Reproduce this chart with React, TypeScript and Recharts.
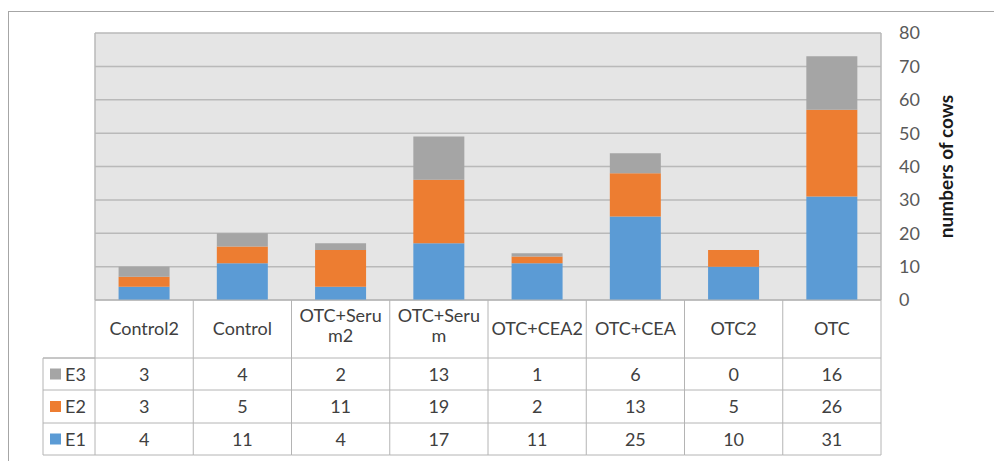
import { BarChart, Bar, XAxis, YAxis, CartesianGrid } from 'recharts';

const categories = ['Control2', 'Control', 'OTC+Serum2', 'OTC+Serum', 'OTC+CEA2', 'OTC+CEA', 'OTC2', 'OTC'];
const e1 = [4, 11, 4, 17, 11, 25, 10, 31];
const e2 = [3, 5, 11, 19, 2, 13, 5, 26];
const e3 = [3, 4, 2, 13, 1, 6, 0, 16];
const yTicks = [0, 10, 20, 30, 40, 50, 60, 70, 80];

const series = [
  { key: 'E3', values: e3, color: '#a5a5a5' },
  { key: 'E2', values: e2, color: '#ed7d31' },
  { key: 'E1', values: e1, color: '#5b9bd5' },
];

const data = categories.map((name, i) => ({ name, E1: e1[i], E2: e2[i], E3: e3[i] }));

const W = 994;
const H = 461;
const M = { top: 33, right: 38, bottom: 5, left: 95 };
const Y_W = 75;
const X_H = 156;
const PLOT_W = W - M.left - M.right - Y_W;
const COL_W = PLOT_W / categories.length;

// header row, then one row per series
const HEAD_H = 58;
const ROW_TOPS = [58, 90, 123];
const ROW_H = [32, 33, 32];

const LINE = '#b4b4b4';
const TXT = '#404040';
const FONT = 'Lato, "Open Sans", sans-serif';

const TableTick = (props: any) => {
  const { x, y, payload, index } = props;
  const left = x - COL_W / 2;
  const name = String(payload.value);
  const lines = name.length > 8 ? [name.slice(0, 8), name.slice(8)] : [name];
  const bottom = y + ROW_TOPS[2] + ROW_H[2];
  return (
    <g fontFamily={FONT} fontSize={18} fill={TXT}>
      <line x1={left} y1={y} x2={left + COL_W} y2={y} stroke={LINE} />
      <line x1={left} y1={y} x2={left} y2={bottom} stroke={LINE} />
      {index === categories.length - 1 && (
        <line x1={left + COL_W} y1={y} x2={left + COL_W} y2={bottom} stroke={LINE} />
      )}
      {lines.length === 1 ? (
        <text x={x} y={y + 35} textAnchor="middle">{lines[0]}</text>
      ) : (
        <text x={x} y={y + 22} textAnchor="middle">
          <tspan x={x}>{lines[0]}</tspan>
          <tspan x={x} dy={20}>{lines[1]}</tspan>
        </text>
      )}
      {series.map((s, r) => (
        <g key={s.key}>
          <line x1={left} y1={y + ROW_TOPS[r]} x2={left + COL_W} y2={y + ROW_TOPS[r]} stroke={LINE} />
          <text x={x} y={y + ROW_TOPS[r] + ROW_H[r] / 2 + 6.5} textAnchor="middle">{s.values[index]}</text>
        </g>
      ))}
      <line x1={left} y1={bottom} x2={left + COL_W} y2={bottom} stroke={LINE} />
      {index === 0 && (
        <g>
          <line x1={left - 52} y1={y + HEAD_H} x2={left} y2={y + HEAD_H} stroke={LINE} />
          <line x1={left - 52} y1={y + HEAD_H} x2={left - 52} y2={bottom} stroke={LINE} />
          <line x1={left - 52} y1={bottom} x2={left} y2={bottom} stroke={LINE} />
          {series.map((s, r) => (
            <g key={s.key}>
              <line x1={left - 52} y1={y + ROW_TOPS[r]} x2={left} y2={y + ROW_TOPS[r]} stroke={LINE} />
              <rect x={left - 45} y={y + ROW_TOPS[r] + ROW_H[r] / 2 - 5.5} width={11} height={11} fill={s.color} />
              <text x={left - 30} y={y + ROW_TOPS[r] + ROW_H[r] / 2 + 6.5}>{s.key}</text>
            </g>
          ))}
        </g>
      )}
    </g>
  );
};

const AxisTitle = ({ viewBox }: any) => {
  const cx = viewBox.x + 64;
  const cy = viewBox.y + viewBox.height / 2;
  return (
    <text
      x={cx}
      y={cy}
      transform={`rotate(-90 ${cx} ${cy})`}
      textAnchor="middle"
      dominantBaseline="central"
      fontFamily={FONT}
      fontWeight="bold"
      fontSize={19}
      fill="#1a1a1a"
    >
      numbers of cows
    </text>
  );
};

export default function App() {
  return (
    <div style={{ position: 'absolute', left: 0, top: 0, width: W, height: H, background: '#fff' }}>
      <div style={{ position: 'absolute', left: 8, top: 11, right: 0, bottom: 0, borderTop: '1.5px solid #a6a6a6', borderLeft: '1.5px solid #a6a6a6' }} />
      <BarChart width={W} height={H} data={data} margin={M} barCategoryGap="24%">
        <CartesianGrid
          fill="#e5e5e5"
          stroke="#b9b9b9"
          strokeWidth={1.5}
          verticalCoordinatesGenerator={({ offset }: any) => [offset.left, offset.left + offset.width]}
        />
        <XAxis
          dataKey="name"
          height={X_H}
          axisLine={false}
          tickLine={false}
          tickSize={0}
          tickMargin={0}
          interval={0}
          tick={<TableTick />}
        />
        <YAxis
          orientation="right"
          width={Y_W}
          domain={[0, 80]}
          ticks={yTicks}
          axisLine={false}
          tickLine={false}
          tickMargin={12}
          tick={{ fill: '#595959', fontSize: 18, fontFamily: FONT }}
          label={<AxisTitle />}
        />
        <Bar dataKey="E1" stackId="a" fill="#5b9bd5" isAnimationActive={false} />
        <Bar dataKey="E2" stackId="a" fill="#ed7d31" isAnimationActive={false} />
        <Bar dataKey="E3" stackId="a" fill="#a5a5a5" isAnimationActive={false} />
      </BarChart>
    </div>
  );
}
